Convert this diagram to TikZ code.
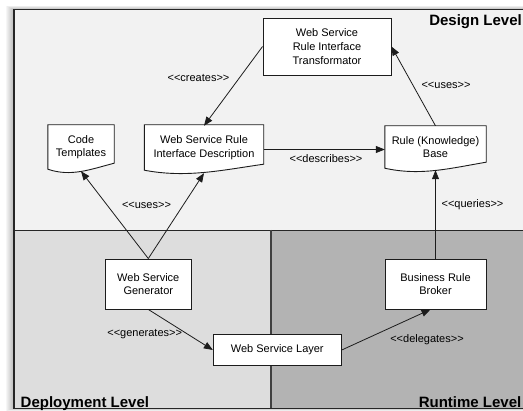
\documentclass[tikz,border=0pt]{standalone}
\usepackage{fontspec}
\setmainfont{Liberation Sans}
\usetikzlibrary{arrows.meta,calc}

\definecolor{designbg}{HTML}{F2F2F2}
\definecolor{deploybg}{HTML}{DDDDDD}
\definecolor{runtimebg}{HTML}{B3B3B3}
\definecolor{linec}{HTML}{1C1C1C}
\definecolor{framec}{HTML}{262626}

\pgfdeclarelayer{bg}
\pgfsetlayers{bg,main}

\tikzset{
  txt/.style={font=\fontsize{11}{13.6}\selectfont},
  box/.style={txt, draw=linec, fill=white, line width=0.9pt, align=center, inner sep=0pt},
  docbox/.style={txt, align=center, inner sep=0pt},
  docline/.style={draw=linec, fill=white, line width=0.9pt},
  lbl/.style={txt, inner sep=0pt},
  flow/.style={draw=linec, line width=0.8pt, -{Triangle[length=9pt,width=7pt]}},
  level/.style={font=\fontsize{15}{18}\selectfont\bfseries, inner sep=0pt},
}

% outline of a document symbol: flat top, wavy bottom edge
\newcommand\docwave[1]{%
  \begin{pgfonlayer}{bg}
    \path[docline] let \p1=(#1.south west), \p2=(#1.north east) in
      (\x1,\y2) -- (\x2,\y2) -- (\x2,\y1+6pt)
      .. controls ({0.35*\x1+0.65*\x2},\y1) and ({0.65*\x1+0.35*\x2},\y1-8pt) ..
      (\x1,\y1) -- cycle;
  \end{pgfonlayer}}

% stereotype label: double angle brackets kept as separate characters
\newcommand\st[1]{<{}<#1>{}>}

\begin{document}
\begin{tikzpicture}[x=1pt,y=-1pt]
\useasboundingbox (0,0) rectangle (523,411);

% soft shadow of the frame
\begin{pgfonlayer}{bg}
\foreach \i in {1,...,7}
  \fill[black,opacity=0.035] (14-\i-1,9.5-0.5*\i) rectangle (530,408.5+0.4*\i);

% the three levels
\fill[designbg]  (14,9.5) rectangle (530,230);
\fill[deploybg]  (14,230) rectangle (271,408.5);
\fill[runtimebg] (271,230) rectangle (530,408.5);
\draw[framec, line width=0.9pt] (14,230) -- (530,230);
\draw[black!75, line width=1.5pt] (271,230) -- (271,408.5);
\draw[framec, line width=1.2pt] (14,9.5) rectangle (530,408.5);
\end{pgfonlayer}

% level titles
\node[level, anchor=base east] (dl) at (522,26) {Design Level};
\node[level, anchor=base west] (pl) at (20.5,407.5) {Deployment Level};
\node[level, anchor=base east] (rl) at (521.5,407.5) {Runtime Level};

% design level
\node[box, minimum width=128pt, minimum height=57pt] (tr) at (327,46.5)
  {Web Service\\Rule Interface\\Transformator};
\node[docbox, minimum width=66pt, minimum height=44pt] (ct) at (81,147)
  {Code\\Templates};
\node[docbox, minimum width=119pt, minimum height=45pt] (wsrid) at (204,147.5)
  {Web Service Rule\\Interface Description};
\node[docbox, minimum width=101pt, minimum height=42pt] (rkb) at (435.5,147)
  {Rule (Knowledge)\\Base};
\docwave{ct}
\docwave{wsrid}
\docwave{rkb}

% deployment and runtime level
\node[box, minimum width=86pt, minimum height=50pt] (gen) at (148.3,284)
  {Web Service\\Generator};
\node[box, minimum width=101pt, minimum height=50pt] (brk) at (435.5,284)
  {Business Rule\\Broker};
\node[box, minimum width=128pt, minimum height=31.5pt] (wsl) at (277.3,350)
  {Web Service Layer};

% connectors
\draw[flow] (tr.west) -- ([yshift=-1pt]wsrid.north);
\draw[flow] (rkb.north) -- (tr.east);
\draw[flow] ([yshift=-2pt]wsrid.east) -- ([yshift=-2pt]wsrid.east -| rkb.west);
\draw[flow] (gen.north) -- ([yshift=-2pt]ct.south);
\draw[flow] (gen.north) -- ([yshift=-3pt]wsrid.south);
\draw[flow] (brk.north) -- ([yshift=-2pt]rkb.south);
\draw[flow] (gen.south) -- (wsl.west);
\draw[flow] (wsl.east) -- ([xshift=-5pt]brk.south);

% connector labels
\node[lbl] (l1) at (198.5,78)   {\st{creates}};
\node[lbl] (l2) at (446,85)     {\st{uses}};
\node[lbl] (l3) at (326,158.5)  {\st{describes}};
\node[lbl] (l4) at (146.5,205)  {\st{uses}};
\node[lbl] (l5) at (472.5,204.5){\st{queries}};
\node[lbl] (l6) at (144.7,334.5){\st{generates}};
\node[lbl] (l7) at (427,340)    {\st{delegates}};
\end{tikzpicture}
\end{document}
